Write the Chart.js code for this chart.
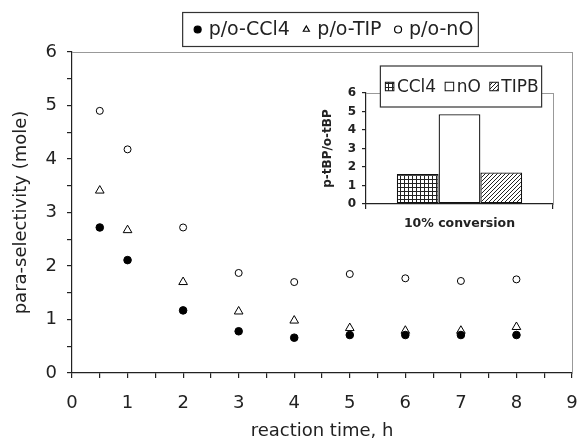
<!DOCTYPE html>
<html>
<head>
<meta charset="utf-8">
<script src="https://cdn.jsdelivr.net/npm/chart.js@4/dist/chart.umd.min.js"></script>
<style>
  body { margin: 0; background: #fff; }
  #wrap { position: relative; width: 579px; height: 444px; }
  #mainChart { position: absolute; left: 0; top: 0; }
  #insetChart { position: absolute; left: 300px; top: 55px; }
</style>
</head>
<body>
<div id="wrap">
  <canvas id="mainChart" width="579" height="444"></canvas>
  <canvas id="insetChart" width="270" height="185"></canvas>
</div>
<script>
// main plot: para-selectivity vs reaction time
const times = [0.5, 1, 2, 3, 4, 5, 6, 7, 8];
const ccl4Sel = [2.72, 2.11, 1.17, 0.78, 0.66, 0.71, 0.71, 0.71, 0.71];
const tipSel = [3.41, 2.67, 1.70, 1.15, 0.98, 0.84, 0.79, 0.79, 0.86];
const noSel = [4.90, 4.18, 2.72, 1.87, 1.70, 1.85, 1.77, 1.72, 1.75];
const seriesNames = ['p/o-CCl4', 'p/o-TIP', 'p/o-nO'];

// inset: p/o ratio at 10% conversion
const insetCategories = ['10% conversion'];
const insetNames = ['CCl4', 'nO', 'TIPB'];
const insetValues = [1.62, 4.85, 1.70];

const textColor = '#222';
const fontFamily = '"DejaVu Sans", Verdana, sans-serif';

function makePattern(kind) {
    const c = document.createElement('canvas');
    c.width = 4; c.height = 4;
    const g = c.getContext('2d');
    g.fillStyle = '#fff';
    g.fillRect(0, 0, 4, 4);
    g.strokeStyle = '#222';
    g.lineWidth = 1;
    if (kind === 'grid') {
        g.beginPath();
        g.moveTo(0, 0.5); g.lineTo(4, 0.5);
        g.moveTo(0.5, 0); g.lineTo(0.5, 4);
        g.stroke();
    } else if (kind === 'diag') {
        g.beginPath();
        g.moveTo(0, 4); g.lineTo(4, 0);
        g.moveTo(-1, 1); g.lineTo(1, -1);
        g.moveTo(3, 5); g.lineTo(5, 3);
        g.stroke();
    }
    return g.createPattern(c, 'repeat');
}

// legend drawn inside a bordered box, centred on opts.cx / opts.cy
const boxLegend = {
    id: 'boxLegend',
    afterDraw(chart, args, opts) {
        const ctx = chart.ctx;
        const sets = chart.data.datasets;
        ctx.save();
        ctx.font = opts.font;
        const widths = sets.map(ds => opts.symbol + opts.gap + ctx.measureText(ds.label).width);
        const inner = widths.reduce((a, b) => a + b, 0) + opts.spacing * (sets.length - 1);
        const w = inner + opts.padL + opts.padR;
        const h = opts.height;
        const left = opts.cx - w / 2;
        const top = opts.cy - h / 2;
        ctx.fillStyle = '#fff';
        ctx.fillRect(left, top, w, h);
        ctx.strokeStyle = '#333';
        ctx.lineWidth = 1.2;
        ctx.strokeRect(left, top, w, h);
        let x = left + opts.padL;
        sets.forEach((ds, i) => {
            const sx = x + opts.symbol / 2;
            if (opts.mode === 'point') {
                ctx.fillStyle = ds.pointBackgroundColor;
                ctx.strokeStyle = ds.pointBorderColor;
                Chart.helpers.drawPoint(ctx, {
                    pointStyle: ds.pointStyle, radius: opts.symbol / 2,
                    rotation: 0, borderWidth: 1
                }, sx, opts.cy);
            } else {
                const s = opts.symbol;
                ctx.fillStyle = ds.backgroundColor;
                ctx.fillRect(x, opts.cy - s / 2, s, s);
                ctx.strokeStyle = '#111';
                ctx.lineWidth = 1;
                ctx.strokeRect(x, opts.cy - s / 2, s, s);
            }
            ctx.fillStyle = textColor;
            ctx.textBaseline = 'middle';
            ctx.textAlign = 'left';
            ctx.fillText(ds.label, x + opts.symbol + opts.gap, opts.cy + 1);
            x += widths[i] + opts.spacing;
        });
        ctx.restore();
    }
};

// fixed axis sizes so the plot area lands where the original has it
function fixHeight(h) {
    return scale => { scale.height = h; scale.paddingLeft = 0; scale.paddingRight = 0; };
}
function fixWidth(w) {
    return scale => { scale.width = w; scale.paddingTop = 0; scale.paddingBottom = 0; };
}

const frameAxis = (pos, size) => ({
    type: 'linear', position: pos, min: 0, max: 1,
    ticks: { display: false },
    grid: { display: false },
    border: { display: true, color: '#999', width: 1 },
    afterFit: pos === 'top' ? fixHeight(size) : fixWidth(size)
});

const mainChart = new Chart(document.getElementById('mainChart'), {
    type: 'scatter',
    data: {
        datasets: [
            {
                label: seriesNames[0],
                data: times.map((t, i) => ({ x: t, y: ccl4Sel[i] })),
                pointStyle: 'circle', pointRadius: 3.8, pointBorderWidth: 1,
                pointBackgroundColor: '#000', pointBorderColor: '#000'
            },
            {
                label: seriesNames[1],
                data: times.map((t, i) => ({ x: t, y: tipSel[i] })),
                pointStyle: 'triangle', pointRadius: 5, pointBorderWidth: 1,
                pointBackgroundColor: '#fff', pointBorderColor: '#000'
            },
            {
                label: seriesNames[2],
                data: times.map((t, i) => ({ x: t, y: noSel[i] })),
                pointStyle: 'circle', pointRadius: 3.5, pointBorderWidth: 1,
                pointBackgroundColor: '#fff', pointBorderColor: '#000'
            }
        ]
    },
    options: {
        responsive: false,
        animation: false,
        layout: { padding: 0 },
        plugins: {
            legend: { display: false },
            tooltip: { enabled: false },
            boxLegend: {
                mode: 'point', cx: 330.5, cy: 29.5, height: 34,
                font: '19px ' + fontFamily,
                symbol: 7, gap: 7.5, spacing: 13, padL: 11.5, padR: 5
            }
        },
        scales: {
            x: {
                type: 'linear', position: 'bottom', min: 0, max: 9,
                ticks: {
                    stepSize: 0.5, autoSkip: false, maxRotation: 0, padding: 15,
                    color: textColor,
                    font: { family: fontFamily, size: 18 },
                    callback: v => (v % 1 === 0 ? v : '')
                },
                grid: { drawOnChartArea: false, tickLength: 5, color: '#222', lineWidth: 1.2 },
                border: { color: '#222', width: 1.2 },
                title: {
                    display: true, text: 'reaction time, h', color: textColor,
                    font: { family: fontFamily, size: 18 },
                    padding: { top: 0, bottom: 2 }
                },
                afterFit: fixHeight(71)
            },
            y: {
                type: 'linear', position: 'left', min: 0, max: 6,
                ticks: {
                    stepSize: 0.5, autoSkip: false, padding: 10,
                    color: textColor,
                    font: { family: fontFamily, size: 18 },
                    callback: v => (v % 1 === 0 ? v : '')
                },
                grid: { drawOnChartArea: false, tickLength: 5, color: '#222', lineWidth: 1.2 },
                border: { color: '#222', width: 1.2 },
                title: {
                    display: true, text: 'para-selectivity (mole)', color: textColor,
                    font: { family: fontFamily, size: 18 },
                    padding: { top: 11, bottom: 0 }
                },
                afterFit: fixWidth(72)
            },
            xTop: frameAxis('top', 52),
            yRight: frameAxis('right', 7)
        }
    },
    plugins: [boxLegend]
});

const insetChart = new Chart(document.getElementById('insetChart'), {
    type: 'bar',
    data: {
        labels: insetCategories,
        datasets: [
            { label: insetNames[0], data: [insetValues[0]], backgroundColor: makePattern('grid') },
            { label: insetNames[1], data: [insetValues[1]], backgroundColor: '#fff' },
            { label: insetNames[2], data: [insetValues[2]], backgroundColor: makePattern('diag') }
        ].map(ds => Object.assign(ds, {
            borderColor: '#111', borderWidth: 1.3, borderSkipped: false,
            barPercentage: 1, categoryPercentage: 0.67
        }))
    },
    options: {
        responsive: false,
        animation: false,
        layout: { padding: 0 },
        plugins: {
            legend: { display: false },
            tooltip: { enabled: false },
            boxLegend: {
                mode: 'box', cx: 161, cy: 31.5, height: 41,
                font: '17px ' + fontFamily,
                symbol: 8.5, gap: 3, spacing: 9, padL: 5, padR: 3
            }
        },
        scales: {
            x: {
                type: 'category', position: 'bottom', offset: true,
                ticks: {
                    color: textColor, padding: 7,
                    font: { family: fontFamily, size: 12.5, weight: 'bold' }
                },
                grid: { offset: true, drawOnChartArea: false, tickLength: 5, color: '#222', lineWidth: 1.2 },
                border: { color: '#222', width: 1.2 },
                afterFit: fixHeight(36)
            },
            y: {
                type: 'linear', position: 'left', min: 0, max: 6,
                ticks: {
                    stepSize: 1, color: textColor, padding: 6,
                    font: { family: fontFamily, size: 12, weight: 'bold' }
                },
                grid: { drawOnChartArea: false, tickLength: 4, color: '#222', lineWidth: 1.2 },
                border: { color: '#222', width: 1.2 },
                title: {
                    display: true, text: 'p-tBP/o-tBP', color: textColor,
                    font: { family: fontFamily, size: 12, weight: 'bold' },
                    padding: { top: 21, bottom: 0 }
                },
                afterFit: fixWidth(66)
            },
            xTop: frameAxis('top', 38),
            yRight: frameAxis('right', 17)
        }
    },
    plugins: [boxLegend]
});
</script>
</body>
</html>
